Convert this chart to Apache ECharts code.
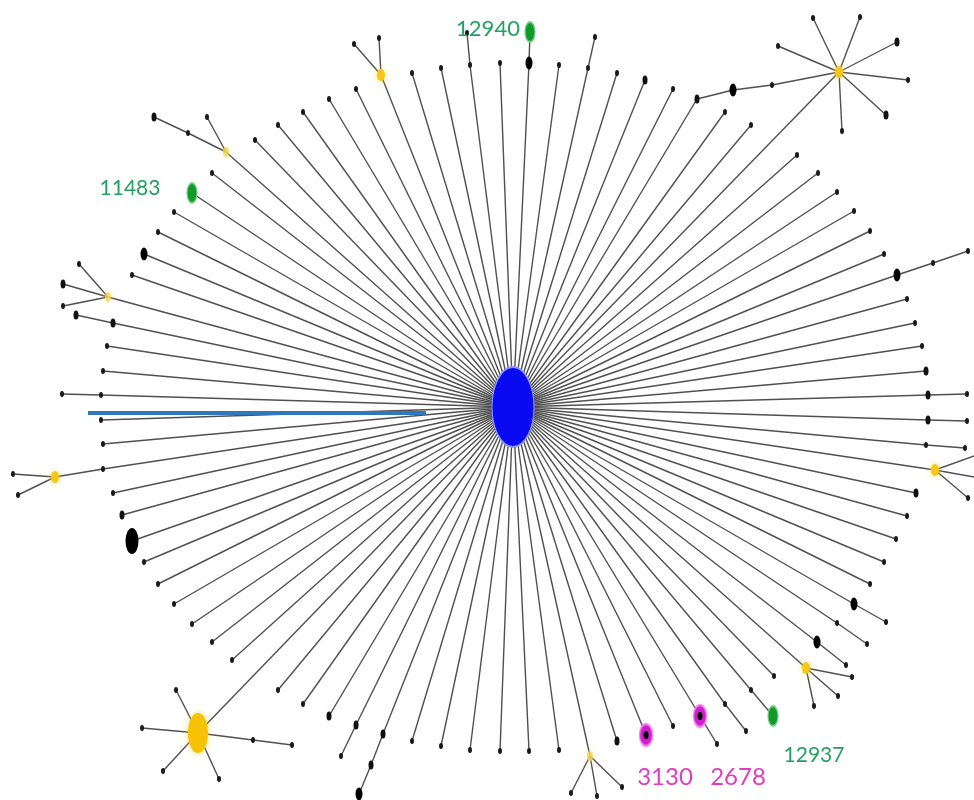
<!DOCTYPE html>
<html><head><meta charset="utf-8">
<script src="https://cdn.jsdelivr.net/npm/echarts@6/dist/echarts.min.js"></script>
<style>html,body{margin:0;padding:0;background:#fff}#c{width:974px;height:800px}</style>
</head><body><div id="c"></div>
<script>
// Layout space of the network (x to the right, y downward)
const hub = [513, 407];

// Direct neighbours of the central ST63 node: [x, y, kind]
const spokeEnds = [
  [500,63,'d'],[470,65,'d'],[441,68,'d'],[412,73,'d'],[381,75,'y'],[356,89,'d'],[329,99,'d'],
  [303,112,'d'],[278,125,'d'],[255,140,'d'],[226,152,'f'],[212,173,'d'],[192,193,'g'],[174,212,'d'],
  [158,232,'d'],[144,254,'b'],[132,275,'d'],[108,297,'f'],[113,323,'m'],[107,346,'d'],[103,371,'d'],
  [101,395,'d'],[101,420,'d'],[103,444,'d'],[103,469,'d'],[113,493,'d'],[122,515,'m'],[132,541,'B'],
  [144,562,'d'],[158,584,'d'],[174,604,'d'],[192,624,'d'],[212,642,'d'],[232,660,'d'],[198,733,'Y'],
  [278,690,'d'],[303,704,'d'],[329,716,'m'],[356,725,'m'],[383,734,'m'],[412,741,'d'],[441,746,'d'],
  [470,750,'d'],[500,751,'d'],[529,751,'d'],[559,750,'d'],[590,756,'f'],[617,741,'m'],[646,735,'p'],
  [673,726,'d'],[700,716,'p'],[725,704,'d'],[751,690,'d'],[774,676,'d'],[806,668,'y'],[817,642,'b'],
  [837,623,'d'],[854,604,'b'],[870,584,'d'],[884,562,'d'],[896,539,'d'],[907,516,'d'],[916,493,'m'],
  [935,470,'y'],[926,445,'d'],[928,420,'m'],[928,395,'m'],[926,371,'m'],[922,346,'d'],[915,323,'d'],
  [907,299,'d'],[897,275,'b'],[884,254,'d'],[870,231,'d'],[854,211,'d'],[837,192,'d'],[818,173,'d'],
  [797,155,'d'],[839,72,'y'],[751,125,'d'],[725,112,'d'],[697,99,'m'],[673,89,'d'],[645,80,'m'],
  [617,73,'d'],[588,68,'d'],[559,65,'d'],[529,63,'b']
];

// Further edges: [x1, y1, x2, y2, kind of the far node]
const branchEdges = [
  [470,65,467,33,'d'],
  [381,75,354,44,'d'],[381,75,379,38,'d'],
  [226,152,188,133,'d'],[188,133,154,117,'m'],[226,152,207,117,'d'],
  [108,297,63,284,'m'],[108,297,63,306,'d'],[108,297,79,264,'d'],
  [113,323,76,315,'m'],
  [101,395,62,394,'d'],
  [103,469,55,477,'y'],[55,477,13,474,'d'],[55,477,18,495,'d'],
  [198,733,176,690,'d'],[198,733,142,728,'d'],[198,733,163,771,'d'],[198,733,219,779,'d'],
  [198,733,253,740,'d'],[253,740,292,745,'d'],
  [383,734,371,765,'m'],[371,765,359,794,'b'],
  [356,725,341,756,'d'],
  [590,756,571,793,'d'],[590,756,597,796,'d'],[590,756,622,787,'d'],
  [700,716,717,744,'d'],
  [725,704,746,731,'d'],
  [751,690,773,716,'g'],
  [806,668,852,677,'d'],[806,668,838,696,'d'],[806,668,814,706,'d'],
  [817,642,846,665,'d'],
  [837,623,867,644,'d'],
  [854,604,886,622,'d'],
  [935,470,985,452,'d'],[935,470,985,479,'d'],[935,470,968,498,'d'],
  [926,445,965,448,'d'],
  [928,420,967,421,'d'],
  [928,395,967,394,'d'],
  [897,275,933,263,'d'],[933,263,968,251,'d'],
  [697,99,733,90,'b'],[733,90,772,85,'d'],[772,85,839,72,'y'],
  [839,72,813,18,'d'],[839,72,860,17,'d'],[839,72,897,42,'m'],[839,72,908,80,'d'],
  [839,72,886,115,'m'],[839,72,842,131,'d'],[839,72,778,46,'d'],
  [588,68,595,37,'d'],
  [529,63,530,32,'g']
];

// Labels attached to nodes: [x, y, text, colour, fontSize, dx, dy]
const nodeLabels = [
  [530,32,'12940','#22a163',22,-42,-3],
  [192,193,'11483','#22a163',21,-62,-5],
  [773,716,'12937','#22a163',21,41,39],
  [646,735,'3130','#e23cc0',24,19,42],
  [700,716,'2678','#e23cc0',24,38,61]
];

// Pointer line for the ST63 label
const pointerText = 'ST63';
const pointerFrom = [88,413];
const pointerTo = [426,413];

const kindStyle = {
  d: {size:[4,6], style:{color:'#1a1a1a'}},
  m: {size:[5,9], style:{color:'#111'}},
  b: {size:[7,13], style:{color:'#000'}},
  B: {size:[13,26], style:{color:'#000'}},
  y: {size:[8,12], style:{color:'#f6c619', shadowBlur:6, shadowColor:'rgba(250,220,60,0.8)'}},
  f: {size:[6,10], style:{color:'#f3d750', opacity:0.8, shadowBlur:6, shadowColor:'rgba(250,230,120,0.8)'}},
  Y: {size:[20,40], style:{color:'#f8c204', shadowBlur:6, shadowColor:'rgba(250,210,60,0.7)'}},
  g: {size:[10,20], style:{color:'#12992c', borderColor:'#6fd27c', borderWidth:1.5}},
  p: {size:[13,22], style:{color:'#d21ccd', borderColor:'rgba(245,130,240,0.85)', borderWidth:2}},
  h: {size:[42,80], style:{color:'#0a0af2', borderColor:'#8a94ff', borderWidth:1.5}},
  n: {size:0, style:{color:'transparent'}}
};

const nodes = [];
const links = [];
const index = {};
function addNode(x, y, kind, force){
  const key = x + ',' + y;
  if (!force && index[key] !== undefined) return index[key];
  const k = kindStyle[kind];
  nodes.push({name: force ? key + '#' + nodes.length : key, value:[x,y], symbol: kind==='n'?'none':'circle',
    symbolSize:k.size, itemStyle:Object.assign({}, k.style)});
  if (!force) index[key] = nodes.length - 1;
  return nodes.length - 1;
}
const hubIdx = addNode(hub[0], hub[1], 'h');
const ends = [];
spokeEnds.forEach(s => { ends.push(addNode(s[0], s[1], s[2])); });
branchEdges.forEach(e => {
  const a = addNode(e[0], e[1], 'd');
  const b = addNode(e[2], e[3], e[4]);
  links.push({source:a, target:b});
});
ends.forEach(i => links.unshift({source:hubIdx, target:i}));
// black centres of the magenta nodes
spokeEnds.filter(s => s[2]==='p').forEach(s => {
  const i = addNode(s[0], s[1], 'b', true);
  nodes[i].symbolSize = [5,8];
});
// ST63 pointer
const pf = addNode(pointerFrom[0], pointerFrom[1], 'n', true);
const pt = addNode(pointerTo[0], pointerTo[1], 'n', true);
nodes[pf].label = {show:true, position:'inside', offset:[-46,0], formatter:pointerText,
  color:'#2f78bd', fontSize:22, fontWeight:'bold', fontFamily:'Lato'};
links.push({source:pf, target:pt, lineStyle:{color:'#2f78bd', width:4, opacity:1}});
nodeLabels.forEach(l => {
  const i = index[l[0] + ',' + l[1]];
  nodes[i].label = {show:true, position:'inside', offset:[l[5], l[6]], formatter:l[2],
    color:l[3], fontSize:l[4], fontFamily:'Lato'};
});

const chart = echarts.init(document.getElementById('c'));
chart.setOption({
  animation:false,
  backgroundColor:'#fff',
  grid:{left:0, right:0, top:0, bottom:0},
  xAxis:{type:'value', min:0, max:974, show:false},
  yAxis:{type:'value', min:0, max:800, inverse:true, show:false},
  series:[{
    type:'graph',
    coordinateSystem:'cartesian2d',
    silent:true,
    data:nodes,
    links:links,
    lineStyle:{color:'#505050', width:1.4, opacity:1, curveness:0},
    label:{show:false},
    emphasis:{disabled:true}
  }]
});
</script>
</body></html>
